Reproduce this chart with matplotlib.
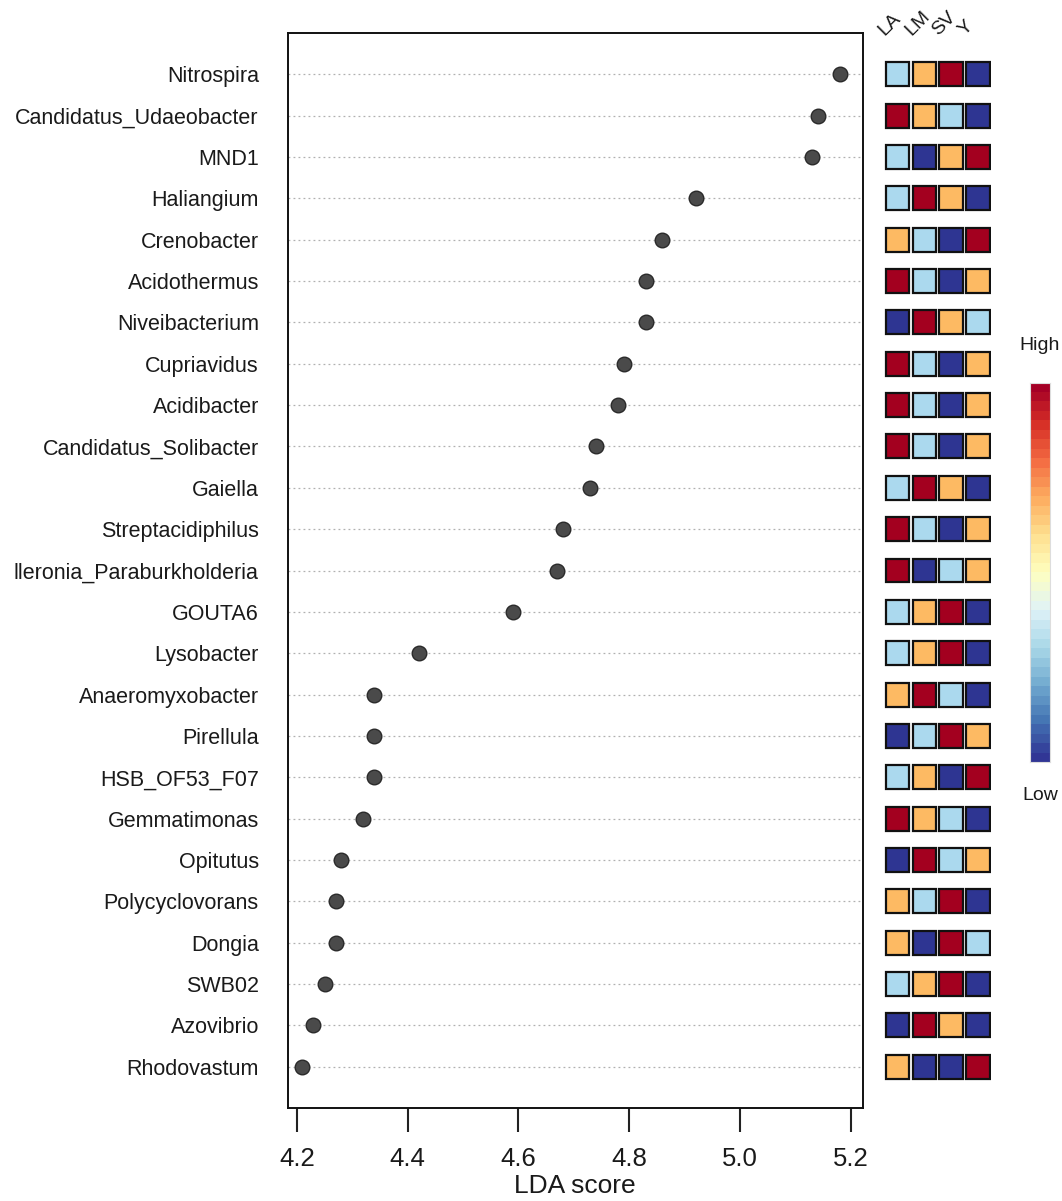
import matplotlib
matplotlib.use("Agg")
import matplotlib.pyplot as plt
import numpy as np
from matplotlib.patches import Rectangle
from matplotlib import font_manager

taxa = ["Nitrospira", "Candidatus_Udaeobacter", "MND1", "Haliangium", "Crenobacter",
        "Acidothermus", "Niveibacterium", "Cupriavidus", "Acidibacter",
        "Candidatus_Solibacter", "Gaiella", "Streptacidiphilus",
        "lleronia_Paraburkholderia", "GOUTA6", "Lysobacter", "Anaeromyxobacter",
        "Pirellula", "HSB_OF53_F07", "Gemmatimonas", "Opitutus", "Polycyclovorans",
        "Dongia", "SWB02", "Azovibrio", "Rhodovastum"]
lda = [5.18, 5.14, 5.13, 4.92, 4.86, 4.83, 4.83, 4.79, 4.78, 4.74, 4.73, 4.68,
       4.67, 4.59, 4.42, 4.34, 4.34, 4.34, 4.32, 4.28, 4.27, 4.27, 4.25, 4.23, 4.21]
groups = ["LA", "LM", "SV", "Y"]
# relative abundance rank (1 = low, 4 = high) per group
LA = [2, 4, 2, 2, 3, 4, 1, 4, 4, 4, 2, 4, 4, 2, 2, 3, 1, 2, 4, 1, 3, 3, 2, 1, 3]
LM = [3, 3, 1, 4, 2, 2, 4, 2, 2, 2, 4, 2, 1, 3, 3, 4, 2, 3, 3, 4, 2, 1, 3, 4, 1]
SV = [4, 2, 3, 3, 1, 1, 3, 1, 1, 1, 3, 1, 2, 4, 4, 2, 4, 1, 2, 2, 4, 4, 4, 3, 1]
Y = [1, 1, 4, 1, 4, 3, 2, 3, 3, 3, 1, 3, 3, 1, 1, 1, 3, 4, 1, 3, 1, 2, 1, 1, 4]
xticks = [4.2, 4.4, 4.6, 4.8, 5.0, 5.2]

rank_colors = {1: "#2e3592", 2: "#abd9ee", 3: "#fdba63", 4: "#a3001f"}

names = {f.name for f in font_manager.fontManager.ttflist}
narrow = ["Liberation Sans Narrow", "Liberation Sans"] if "Liberation Sans Narrow" in names else ["Liberation Sans"]
plt.rcParams["font.family"] = ["Liberation Sans", "DejaVu Sans"]

W, H = 1062, 1201
fig = plt.figure(figsize=(W / 100, H / 100), dpi=100)

def fx(px):
    return px / W

def fy(py):
    return 1 - py / H

# main dot plot
ax = fig.add_axes([fx(288), fy(1108), fx(863) - fx(288), fy(33) - fy(1108)])
n = len(taxa)
ypos = np.arange(n)
for yv in ypos:
    ax.axhline(yv, color="#b0b0b0", lw=0.9, ls=(0, (1.5, 2.5)), zorder=1)
ax.plot(lda, ypos, "o", ms=10.5, mfc="#4a4a4a", mec="#2a2a2a", mew=1.0, zorder=3, ls="none")
ax.set_ylim(n - 1 + 1.0, -1.0)
ax.set_xlim(4.184, 5.222)
ax.set_yticks(ypos)
ax.set_yticklabels(taxa, fontsize=15.5, color="#1a1a1a")
ax.tick_params(axis="y", length=0, pad=21)
ax.set_xticks(xticks)
ax.set_xticklabels([f"{t:.1f}" for t in xticks], fontsize=18.5, family=narrow, color="#1a1a1a")
ax.tick_params(axis="x", length=17, width=1.5, pad=11, color="#222222")
for s in ax.spines.values():
    s.set_linewidth(1.4)
    s.set_color("#111111")
fig.text(fx(575), fy(1186), "LDA score", ha="center", va="center", fontsize=19,
         family=narrow, color="#1a1a1a")

# heatmap
hx0, hx1 = 884.1, 991.4
hax = fig.add_axes([fx(hx0), fy(1108), fx(hx1) - fx(hx0), fy(33) - fy(1108)])
hax.set_xlim(0, 4)
hax.set_ylim(n - 1 + 1.0, -1.0)
hax.axis("off")
cols = [LA, LM, SV, Y]
cw, ch = 0.88, 0.58
for j, col in enumerate(cols):
    for i, v in enumerate(col):
        hax.add_patch(Rectangle((j + 0.5 - cw / 2, i - ch / 2), cw, ch,
                                facecolor=rank_colors[v], edgecolor="#111111", lw=1.6))
for j, g in enumerate(groups):
    hax.text(j + 0.5 - cw / 2 + 0.05, -0.85, g, rotation=45, rotation_mode="anchor",
             ha="left", va="bottom", fontsize=14, color="#1a1a1a")

# colorbar
cax = fig.add_axes([fx(1030), fy(762), fx(1050) - fx(1030), fy(383) - fy(762)])
grad = np.linspace(0, 1, 40).reshape(-1, 1)
cax.imshow(grad, aspect="auto", cmap=plt.get_cmap("RdYlBu_r"), origin="lower",
           extent=[0, 1, 0, 1])
cax.set_xticks([])
cax.set_yticks([])
for s in cax.spines.values():
    s.set_color("#dddddd")
    s.set_linewidth(0.8)
fig.text(fx(1040), fy(345), "High", ha="center", va="center", fontsize=14, color="#1a1a1a")
fig.text(fx(1040), fy(796), "Low", ha="center", va="center", fontsize=14, color="#1a1a1a")

fig.savefig("out.png", dpi=100)
